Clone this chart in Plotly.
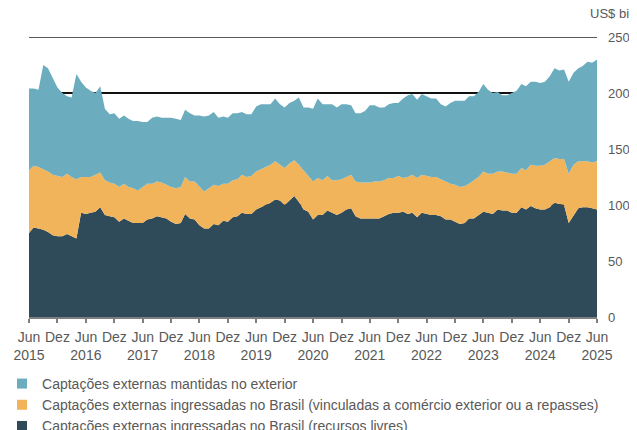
import pandas as pd
import plotly.graph_objects as go

# Mensal, jun/2015 a jun/2025 (US$ bilhões)
meses = pd.date_range("2015-06-01", "2025-06-01", freq="MS")

recursos_livres = [
    75, 80, 79, 78, 76, 73, 72, 72, 74, 72, 70, 93, 92, 93, 94, 98, 91, 90, 89, 85,
    88, 86, 84, 84, 84, 87, 88, 90, 89, 88, 85, 83, 84, 92, 88, 87, 82, 79, 79, 83,
    82, 86, 85, 89, 90, 93, 92, 92, 96, 98, 100, 102, 105, 104, 100, 104, 108, 103, 96, 94,
    87, 91, 91, 95, 93, 91, 93, 96, 97, 90, 88, 88, 88, 88, 88, 90, 92, 93, 93, 94,
    92, 93, 89, 93, 92, 91, 91, 90, 87, 87, 85, 83, 84, 88, 88, 91, 94, 93, 92, 96,
    95, 95, 93, 93, 98, 96, 99, 97, 96, 96, 98, 102, 101, 100, 84, 91, 97, 98, 98, 97,
    96,
]

vinculadas = [
    56, 55, 55, 54, 54, 54, 54, 53, 54, 53, 53, 32, 33, 32, 33, 31, 31, 30, 30, 31,
    31, 30, 31, 29, 32, 32, 31, 31, 31, 30, 31, 32, 32, 33, 33, 34, 34, 33, 36, 35,
    35, 33, 34, 33, 33, 34, 33, 34, 34, 34, 34, 34, 34, 32, 33, 33, 32, 33, 35, 33,
    34, 33, 31, 31, 29, 31, 30, 29, 30, 31, 32, 32, 32, 33, 33, 32, 32, 31, 33, 30,
    33, 34, 35, 34, 34, 34, 34, 33, 34, 32, 33, 33, 33, 31, 34, 34, 36, 35, 36, 34,
    35, 34, 35, 35, 35, 35, 37, 38, 39, 40, 41, 40, 40, 41, 44, 45, 42, 41, 41, 41,
    43,
]

mantidas_exterior = [
    73, 69, 69, 93, 92, 87, 79, 75, 69, 71, 94, 85, 80, 77, 73, 77, 64, 61, 63, 61,
    61, 61, 60, 62, 58, 55, 59, 58, 58, 60, 62, 62, 60, 60, 61, 59, 64, 67, 65, 65,
    61, 60, 59, 60, 59, 56, 56, 55, 58, 58, 56, 54, 56, 54, 54, 54, 53, 60, 56, 60,
    65, 71, 68, 64, 68, 65, 67, 65, 62, 61, 62, 64, 69, 68, 66, 65, 66, 67, 65, 71,
    73, 72, 70, 72, 71, 70, 70, 67, 67, 72, 75, 77, 76, 78, 75, 76, 78, 75, 72, 71,
    68, 69, 72, 74, 75, 75, 74, 75, 74, 74, 76, 80, 79, 80, 82, 82, 83, 85, 89, 89,
    91,
]

series = [
    ("Captações externas ingressadas no Brasil (recursos livres)", recursos_livres, "#2f4b5a"),
    ("Captações externas ingressadas no Brasil (vinculadas a comércio exterior ou a repasses)", vinculadas, "#f2b45a"),
    ("Captações externas mantidas no exterior", mantidas_exterior, "#6badbe"),
]

# rótulos semestrais do eixo x
tick_vals = meses[::6]
tick_text = [f"Jun<br>{d.year}" if d.month == 6 else "Dez" for d in tick_vals]

fig = go.Figure()
for nome, valores, cor in series:
    fig.add_trace(go.Scatter(
        x=meses, y=valores, name=nome, mode="lines",
        stackgroup="um", line=dict(width=0, color=cor),
        fillcolor=cor, showlegend=False,
    ))

# legenda com quadrados, na ordem do original
for nome, _, cor in reversed(series):
    fig.add_trace(go.Scatter(
        x=[None], y=[None], name=nome, mode="markers",
        marker=dict(symbol="square", size=10, color=cor),
    ))

cinza = "#595959"
# a página tem 8px de margem no body, por isso 629x422
fig.update_layout(
    width=629, height=422,
    margin=dict(l=21, r=40, t=29, b=113, autoexpand=False),
    paper_bgcolor="white", plot_bgcolor="white",
    font=dict(family="Liberation Sans, Arial, sans-serif", size=13, color=cinza),
    showlegend=True,
    legend=dict(
        orientation="v", x=-0.0475, xanchor="left",
        yref="container", y=0.147, yanchor="top",
        traceorder="normal",
        font=dict(size=14, color=cinza), tracegroupgap=0,
        bgcolor="rgba(0,0,0,0)",
    ),
    annotations=[dict(
        text="US$ bi", xref="paper", yref="paper", x=0.985, y=1.085,
        xanchor="left", yanchor="middle", showarrow=False,
        font=dict(size=13, color=cinza),
    )],
    shapes=[dict(
        type="line", xref="paper", yref="y", x0=0, x1=1, y0=250, y1=250,
        line=dict(color="#222222", width=1.6), layer="below",
    )],
)
fig.update_xaxes(
    range=[meses[0], meses[-1]], tickvals=tick_vals, ticktext=tick_text,
    tickangle=0,
    showgrid=False, showline=True, linecolor="#7f7f7f", linewidth=1.5,
    ticks="outside", ticklen=4, tickcolor="#7f7f7f", tickwidth=1.5,
    ticklabelstandoff=2,
    tickfont=dict(size=14, color=cinza), automargin=False,
)
fig.update_yaxes(
    range=[0, 250], dtick=50, side="right",
    showgrid=True, gridcolor="#111111", gridwidth=1.5,
    zeroline=False, ticks="", ticklabelstandoff=10,
    tickfont=dict(size=13, color=cinza), automargin=False,
)

fig.write_html("out.html")
